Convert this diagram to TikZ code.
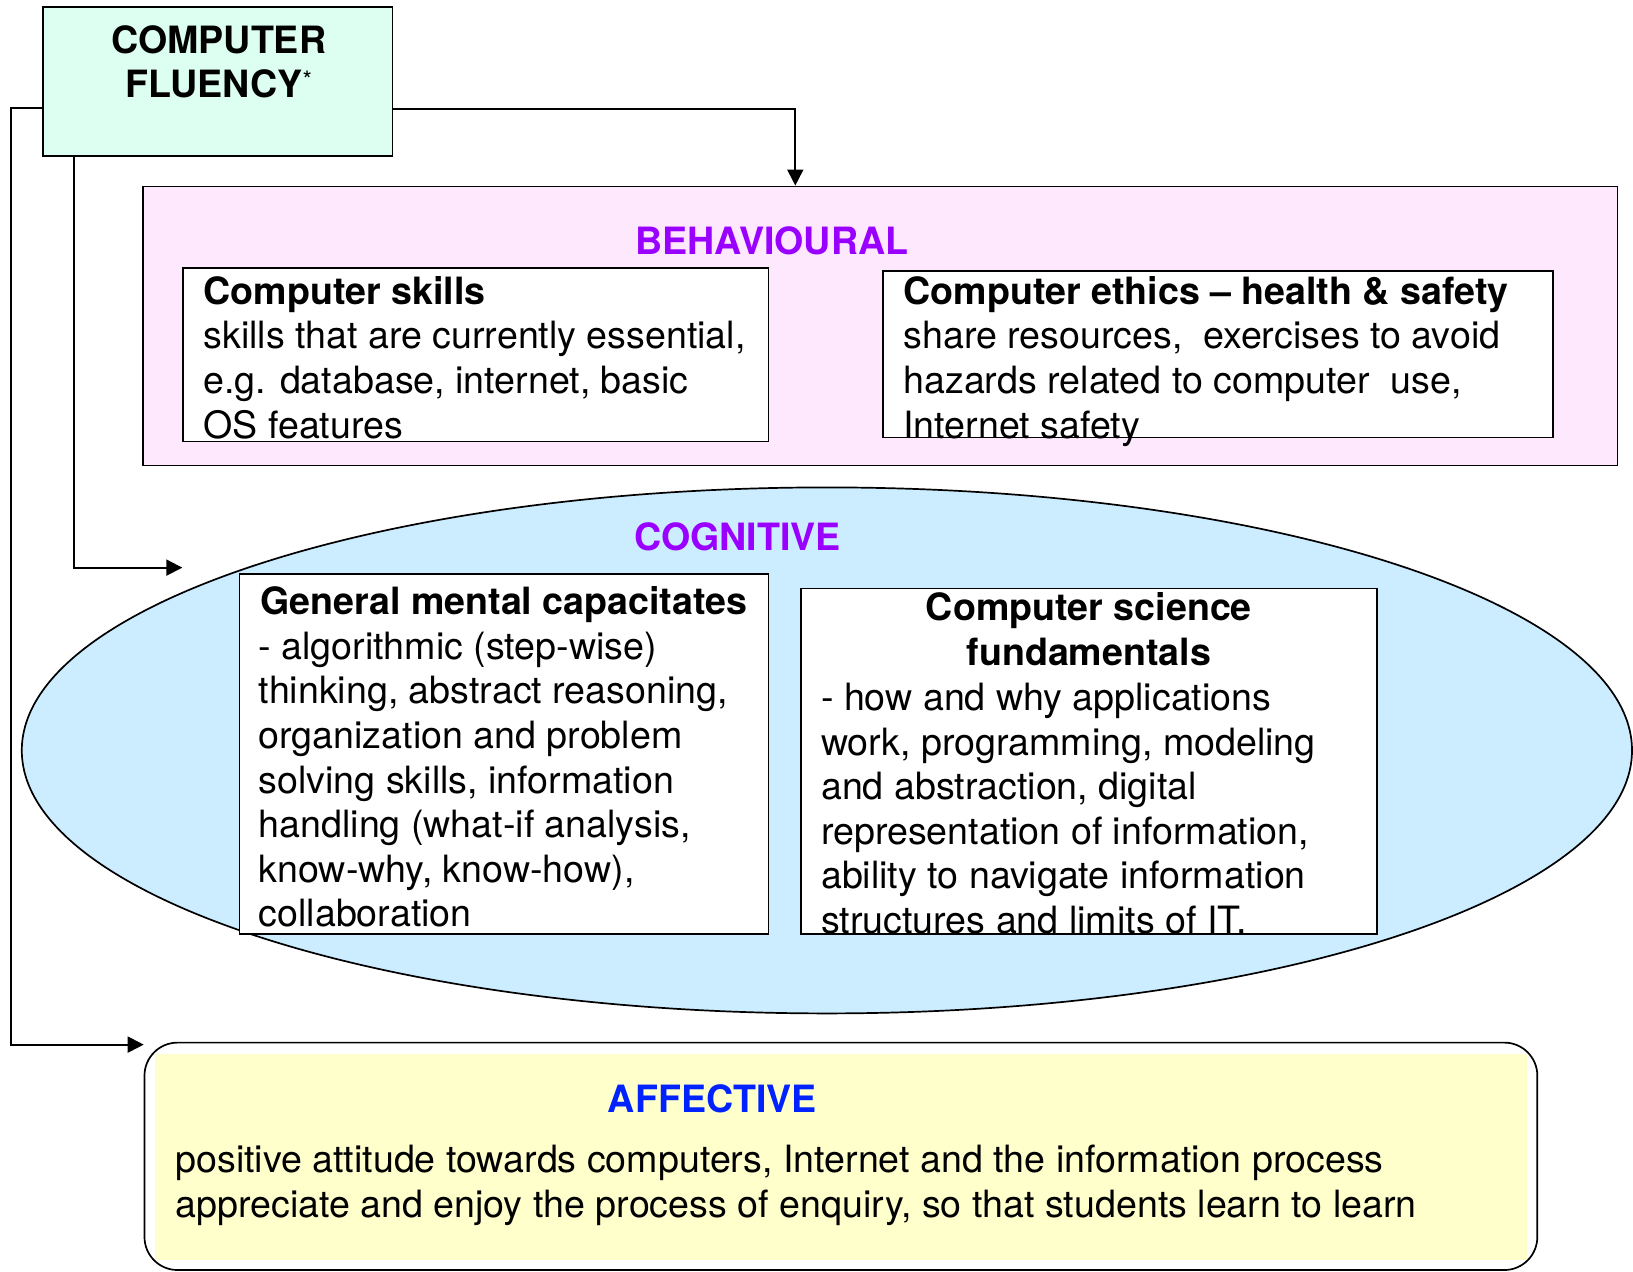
\documentclass[tikz,border=0pt]{standalone}
\usepackage{fontspec}
\setmainfont{TeX Gyre Heros}
\usetikzlibrary{positioning, arrows.meta, shapes.geometric, calc}
\definecolor{fluencymint}{HTML}{DCFFF1}
\definecolor{fluencypink}{HTML}{FEE8FE}
\definecolor{fluencyblue}{HTML}{CCECFF}
\definecolor{fluencyyellow}{HTML}{FFFFCC}
\definecolor{fluencypurple}{HTML}{9900FF}
\definecolor{fluencytitle}{HTML}{0022FF}

\begin{document}
\begin{tikzpicture}[x=0.5pt, y=-0.5pt, >={Triangle[length=8pt, width=8pt]},
        box/.style={draw, line width=0.85pt, inner sep=0pt},
        txt/.style={inner sep=0pt, font=\fontsize{18.8}{22.3}\selectfont},
        head/.style={inner sep=0pt, font=\fontsize{18.8}{22.3}\selectfont\bfseries},
        link/.style={->, line width=0.95pt}]
  \useasboundingbox (0,0) rectangle (1633,1271);

  % source box
  \node[box, fill=fluencymint, minimum width=174.95pt, minimum height=74.45pt] (cf) at (217.65,81.75) {};
  \node[head, align=center, anchor=north] (cftext) at (218.7,21.6) {\strut COMPUTER\\FLUENCY\raisebox{4.5pt}{\mdseries\fontsize{12}{12}\selectfont*}};

  % behavioural
  \node[box, fill=fluencypink, minimum width=737.35pt, minimum height=139.55pt] (behav) at (880.05,325.95) {};
  \node[head, text=fluencypurple] (behavtitle) at (771.7,240.6) {BEHAVIOURAL};
  \node[box, fill=white, minimum width=292.65pt, minimum height=86.95pt] (skills) at (475.95,354.65) {};
  \node[txt, align=left, anchor=north west] (skillstext) at (203,272.6) {\strut\textbf{Computer skills}\\skills that are currently essential,\\e.g. database, internet, basic\\OS features};
  \node[box, fill=white, minimum width=334.8pt, minimum height=83.3pt] (ethics) at (1218,354.1) {};
  \node[txt, align=left, anchor=north west] (ethicstext) at (903,272.6) {\strut\textbf{Computer ethics -- health \& safety}\\share resources,\ \ exercises to avoid\\hazards related to computer\ \ use,\\Internet safety};

  % cognitive
  \node[draw, ellipse, line width=0.85pt, fill=fluencyblue, minimum width=805.1pt, minimum height=263pt, inner sep=0pt] (cog) at (826.9,750.4) {};
  \node[head, text=fluencypurple] (cogtitle) at (737.4,536.4) {COGNITIVE};
  \node[box, fill=white, minimum width=264.55pt, minimum height=180.15pt] (mental) at (504.05,754.05) {};
  \node[head, anchor=north] (mentalhead) at (504,583) {\strut General mental capacitates};
  \node[txt, align=left, anchor=north west] (mentaltext) at (258.3,627.7) {\strut - algorithmic (step-wise)\\thinking, abstract reasoning,\\organization and problem\\solving skills, information\\handling (what-if analysis,\\know-why, know-how),\\collaboration};
  \node[box, fill=white, minimum width=288pt, minimum height=172.9pt] (cs) at (1088.9,761.3) {};
  \node[head, align=center, anchor=north] (cshead) at (1088.9,589.2) {\strut Computer science\\fundamentals};
  \node[txt, align=left, anchor=north west] (cstext) at (820.7,678.8) {\strut - how and why applications\\work, programming, modeling\\and abstraction, digital\\representation of information,\\ability to navigate information\\structures and limits of IT.};

  % affective
  \fill[fluencyyellow] (155.3,1054.3) rectangle (1526.7,1260);
  \node[box, rounded corners=16.5pt, minimum width=696.4pt, minimum height=113.7pt] (affect) at (840.9,1156.3) {};
  \node[head, text=fluencytitle] (afftitle) at (712.4,1098.8) {AFFECTIVE};
  \node[txt, align=left, anchor=north west] (afftext) at (175,1141.2) {\strut positive attitude towards computers, Internet and the information process\\appreciate and enjoy the process of enquiry, so that students learn to learn};

  % links
  \coordinate (cogin) at (182.3,567.6);
  \coordinate (affin) at (143.7,1044.6);
  \draw[link] ($(cf.north east)!0.683!(cf.south east)$) -| ($(behav.north west)!0.4426!(behav.north east)$);
  \draw[link] ($(cf.south west)!0.092!(cf.south east)$) |- (cogin);
  \draw[link] ($(cf.north west)!0.672!(cf.south west)$) -- ++(-31.2,0) |- (affin);
\end{tikzpicture}
\end{document}
